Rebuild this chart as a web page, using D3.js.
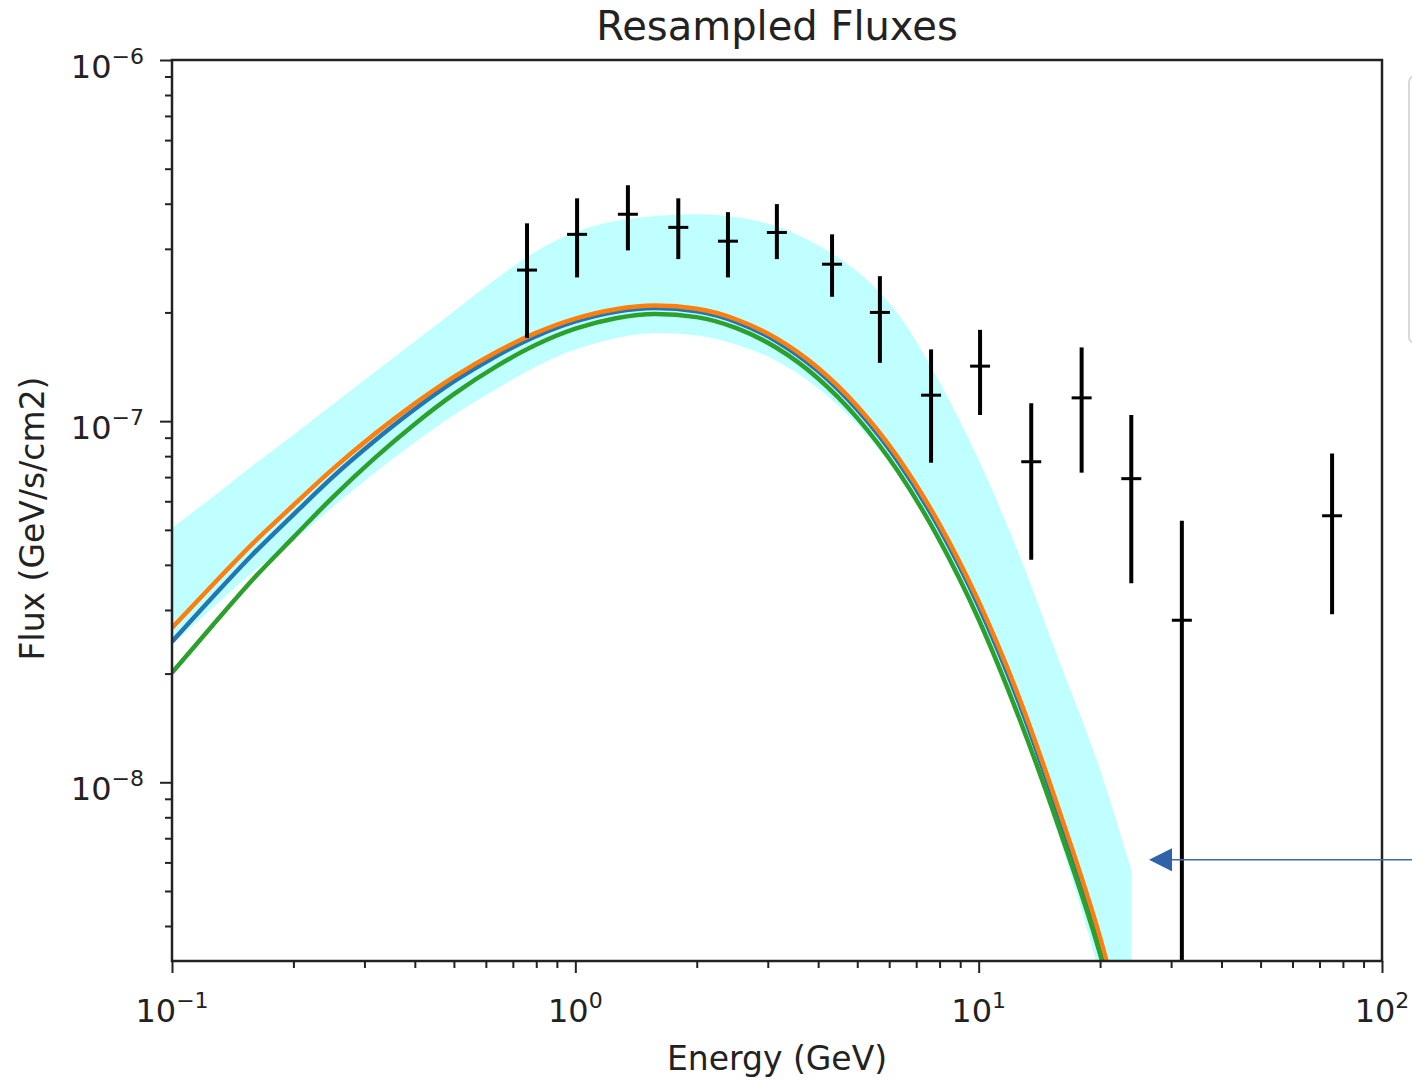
<!DOCTYPE html>
<html>
<head>
<meta charset="utf-8">
<script src="https://cdn.jsdelivr.net/npm/d3@7"></script>
<style>
  html, body { margin: 0; padding: 0; background: #fff; }
  svg { display: block; font-family: 'DejaVu Sans', sans-serif; }
</style>
</head>
<body>
<div id="chart"></div>
<script>
// Measured points (energy in GeV, flux in GeV/s/cm2)
const pointEnergy = [0.759, 1.01, 1.35, 1.80, 2.39, 3.16, 4.33, 5.69, 7.62, 10.08, 13.5, 18.0, 23.9, 31.9, 75.2];
const pointFlux   = [2.62e-7, 3.29e-7, 3.74e-7, 3.44e-7, 3.15e-7, 3.33e-7, 2.72e-7, 2.00e-7, 1.18e-7, 1.42e-7, 7.72e-8, 1.16e-7, 6.93e-8, 2.81e-8, 5.47e-8];
const pointHigh   = [3.53e-7, 4.14e-7, 4.50e-7, 4.14e-7, 3.79e-7, 3.99e-7, 3.29e-7, 2.52e-7, 1.58e-7, 1.79e-7, 1.12e-7, 1.60e-7, 1.04e-7, 5.30e-8, 8.13e-8];
const pointLow    = [1.70e-7, 2.50e-7, 2.97e-7, 2.81e-7, 2.50e-7, 2.81e-7, 2.21e-7, 1.45e-7, 7.67e-8, 1.04e-7, 4.13e-8, 7.20e-8, 3.56e-8, 1e-10, 2.92e-8];

// Model curves
const modelEnergy = [0.1, 0.126, 0.158, 0.2, 0.251, 0.316, 0.398, 0.501, 0.631, 0.794, 1, 1.26, 1.58, 2.0, 2.51, 3.16, 3.98, 5.01, 6.31, 7.94, 10, 12.6, 15.8, 20.0, 25.1];
const modelBlue = [2.451e-8, 3.254e-8, 4.260e-8, 5.511e-8, 7.024e-8, 8.768e-8, 1.075e-7, 1.290e-7, 1.506e-7, 1.713e-7, 1.888e-7, 2.009e-7, 2.056e-7, 2.014e-7, 1.881e-7, 1.662e-7, 1.382e-7, 1.073e-7, 7.730e-8, 5.109e-8, 3.073e-8, 1.657e-8, 8.090e-9, 3.559e-9, 1.318e-9];
const modelOrange = [2.676e-8, 3.518e-8, 4.566e-8, 5.850e-8, 7.386e-8, 9.162e-8, 1.115e-7, 1.329e-7, 1.545e-7, 1.750e-7, 1.923e-7, 2.042e-7, 2.089e-7, 2.047e-7, 1.912e-7, 1.692e-7, 1.410e-7, 1.098e-7, 7.928e-8, 5.256e-8, 3.168e-8, 1.715e-8, 8.410e-9, 3.715e-9, 1.380e-9];
const modelGreen = [2.011e-8, 2.718e-8, 3.627e-8, 4.766e-8, 6.172e-8, 7.852e-8, 9.779e-8, 1.190e-7, 1.409e-7, 1.622e-7, 1.803e-7, 1.928e-7, 1.981e-7, 1.941e-7, 1.809e-7, 1.594e-7, 1.319e-7, 1.018e-7, 7.264e-8, 4.749e-8, 2.824e-8, 1.507e-8, 7.496e-9, 3.344e-9, 1.228e-9];

// Resampled band
const bandEnergy = [0.1, 0.126, 0.158, 0.2, 0.251, 0.316, 0.398, 0.501, 0.631, 0.794, 1, 1.26, 1.58, 2.0, 2.51, 3.16, 3.98, 5.01, 6.31, 7.94, 10, 12.6, 15.8, 20.0, 23.9];
const bandUpper = [5.06e-8, 6.16e-8, 7.51e-8, 9.15e-8, 1.116e-7, 1.359e-7, 1.656e-7, 2.018e-7, 2.459e-7, 2.939e-7, 3.340e-7, 3.581e-7, 3.698e-7, 3.739e-7, 3.668e-7, 3.463e-7, 3.074e-7, 2.587e-7, 1.980e-7, 1.300e-7, 7.80e-8, 4.26e-8, 2.18e-8, 1.081e-8, 5.71e-9];
const bandLower = [2.41e-8, 3.04e-8, 3.81e-8, 4.67e-8, 5.80e-8, 7.15e-8, 8.70e-8, 1.041e-7, 1.219e-7, 1.411e-7, 1.578e-7, 1.697e-7, 1.753e-7, 1.727e-7, 1.628e-7, 1.466e-7, 1.240e-7, 9.77e-8, 7.12e-8, 4.75e-8, 2.82e-8, 1.51e-8, 7.1e-9, 2.9e-9, 1.3e-9];

// Axis ticks
const xMajor = [0.1, 1, 10, 100];
const xMajorExp = ['\u22121', '0', '1', '2'];
const yMajor = [1e-8, 1e-7, 1e-6];
const yMajorExp = ['\u22128', '\u22127', '\u22126'];

// Annotation arrow (energy, flux)
const arrowTip = [26.6, 6.1e-9];
const arrowTail = [120, 6.1e-9];

const WIDTH = 1412;
const HEIGHT = 1081;
const LEFT = 172, RIGHT = 1382, TOP = 60, BOTTOM = 961;

const x = d3.scaleLog().domain([0.1, 100]).range([LEFT, RIGHT]);
const y = d3.scaleLog().domain([3.2e-9, 1e-6]).range([BOTTOM, TOP]);

const svg = d3.select('#chart')
  .append('svg')
  .attr('width', WIDTH)
  .attr('height', HEIGHT)
  .attr('viewBox', `0 0 ${WIDTH} ${HEIGHT}`);

svg.append('rect').attr('width', WIDTH).attr('height', HEIGHT).attr('fill', '#fff');

svg.append('clipPath').attr('id', 'plot-clip')
  .append('rect')
  .attr('x', LEFT).attr('y', TOP)
  .attr('width', RIGHT - LEFT).attr('height', BOTTOM - TOP);

const plot = svg.append('g').attr('clip-path', 'url(#plot-clip)');

// band
const area = d3.area()
  .x((d) => x(d.e))
  .y0((d) => y(d.lo))
  .y1((d) => y(d.hi))
  .curve(d3.curveMonotoneX);

plot.append('path')
  .datum(bandEnergy.map((e, i) => ({ e, lo: bandLower[i], hi: bandUpper[i] })))
  .attr('d', area)
  .attr('fill', 'cyan')
  .attr('fill-opacity', 0.25)
  .attr('stroke', 'none');

// model lines
const line = d3.line()
  .x((d) => x(d.e))
  .y((d) => y(d.f))
  .curve(d3.curveMonotoneX);

const models = [
  { values: modelBlue, color: '#1f77b4' },
  { values: modelOrange, color: '#ff7f0e' },
  { values: modelGreen, color: '#2ca02c' },
];

models.forEach((m) => {
  plot.append('path')
    .datum(modelEnergy.map((e, i) => ({ e, f: m.values[i] })))
    .attr('d', line)
    .attr('fill', 'none')
    .attr('stroke', m.color)
    .attr('stroke-width', 4.5)
    .attr('stroke-linejoin', 'round');
});

// error bars
const points = pointEnergy.map((e, i) => ({ e, f: pointFlux[i], hi: pointHigh[i], lo: pointLow[i] }));
const bars = plot.append('g').selectAll('g').data(points).join('g');

bars.append('line')
  .attr('x1', (d) => x(d.e)).attr('x2', (d) => x(d.e))
  .attr('y1', (d) => y(d.hi)).attr('y2', (d) => y(d.lo))
  .attr('stroke', '#000')
  .attr('stroke-width', 4);

bars.append('line')
  .attr('x1', (d) => x(d.e) - 10).attr('x2', (d) => x(d.e) + 10)
  .attr('y1', (d) => y(d.f)).attr('y2', (d) => y(d.f))
  .attr('stroke', '#000')
  .attr('stroke-width', 3);

// axes ticks
const xMinor = [];
const yMinor = [];
[0.1, 1, 10].forEach((b) => d3.range(2, 10).forEach((k) => xMinor.push(b * k)));
[1e-9, 1e-8, 1e-7].forEach((b) => d3.range(2, 10).forEach((k) => {
  const v = b * k;
  if (v >= 3.2e-9) yMinor.push(v);
}));

function styleAxis(g) {
  g.select('.domain').remove();
  g.selectAll('.tick line').attr('stroke', '#222').attr('stroke-width', 2);
}

svg.append('g')
  .attr('transform', `translate(0,${BOTTOM})`)
  .call(d3.axisBottom(x).tickValues(xMajor).tickSize(12).tickFormat(''))
  .call(styleAxis);
svg.append('g')
  .attr('transform', `translate(0,${BOTTOM})`)
  .call(d3.axisBottom(x).tickValues(xMinor).tickSize(7).tickFormat(''))
  .call(styleAxis);
svg.append('g')
  .attr('transform', `translate(${LEFT},0)`)
  .call(d3.axisLeft(y).tickValues(yMajor).tickSize(12).tickFormat(''))
  .call(styleAxis);
svg.append('g')
  .attr('transform', `translate(${LEFT},0)`)
  .call(d3.axisLeft(y).tickValues(yMinor).tickSize(7).tickFormat(''))
  .call(styleAxis);

// frame
svg.append('rect')
  .attr('x', LEFT).attr('y', TOP)
  .attr('width', RIGHT - LEFT).attr('height', BOTTOM - TOP)
  .attr('fill', 'none')
  .attr('stroke', '#222')
  .attr('stroke-width', 2.5);

// tick labels
const xLabels = svg.append('g').selectAll('text').data(xMajor).join('text')
  .attr('x', (d) => x(d))
  .attr('y', BOTTOM + 61)
  .attr('text-anchor', 'middle')
  .attr('fill', '#222')
  .attr('font-size', 32);
xLabels.append('tspan').text('10');
xLabels.append('tspan').attr('dy', -14).attr('font-size', 22).text((d, i) => xMajorExp[i]);

const yLabels = svg.append('g').selectAll('text').data(yMajor).join('text')
  .attr('x', LEFT - 28)
  .attr('y', (d) => y(d) + 18)
  .attr('text-anchor', 'end')
  .attr('fill', '#222')
  .attr('font-size', 32);
yLabels.append('tspan').text('10');
yLabels.append('tspan').attr('dy', -14).attr('font-size', 22).text((d, i) => yMajorExp[i]);

// titles
svg.append('text')
  .attr('x', (LEFT + RIGHT) / 2)
  .attr('y', 40)
  .attr('text-anchor', 'middle')
  .attr('fill', '#222')
  .attr('font-size', 40)
  .text('Resampled Fluxes');

svg.append('text')
  .attr('x', (LEFT + RIGHT) / 2)
  .attr('y', 1070)
  .attr('text-anchor', 'middle')
  .attr('fill', '#222')
  .attr('font-size', 33)
  .text('Energy (GeV)');

svg.append('text')
  .attr('transform', `translate(44,${(TOP + BOTTOM) / 2 + 8}) rotate(-90)`)
  .attr('text-anchor', 'middle')
  .attr('fill', '#222')
  .attr('font-size', 33)
  .text('Flux (GeV/s/cm2)');

// legend remnant at the right edge
svg.append('rect')
  .attr('x', 1409).attr('y', 76)
  .attr('width', 40).attr('height', 267)
  .attr('rx', 6)
  .attr('fill', '#fff')
  .attr('stroke', '#d8d8d8')
  .attr('stroke-width', 2);

// annotation arrow
svg.append('defs').append('marker')
  .attr('id', 'head')
  .attr('viewBox', '0 0 10 10')
  .attr('refX', 0).attr('refY', 5)
  .attr('markerUnits', 'userSpaceOnUse')
  .attr('markerWidth', 23).attr('markerHeight', 23)
  .attr('orient', 'auto-start-reverse')
  .append('path')
  .attr('d', 'M0,0 L10,5 L0,10 Z')
  .attr('fill', '#2f62a8');

svg.append('line')
  .attr('x1', x(arrowTail[0])).attr('y1', y(arrowTail[1]))
  .attr('x2', x(arrowTip[0]) + 22).attr('y2', y(arrowTip[1]))
  .attr('stroke', '#3a6ab0')
  .attr('stroke-width', 1.5)
  .attr('marker-end', 'url(#head)');
</script>
</body>
</html>
